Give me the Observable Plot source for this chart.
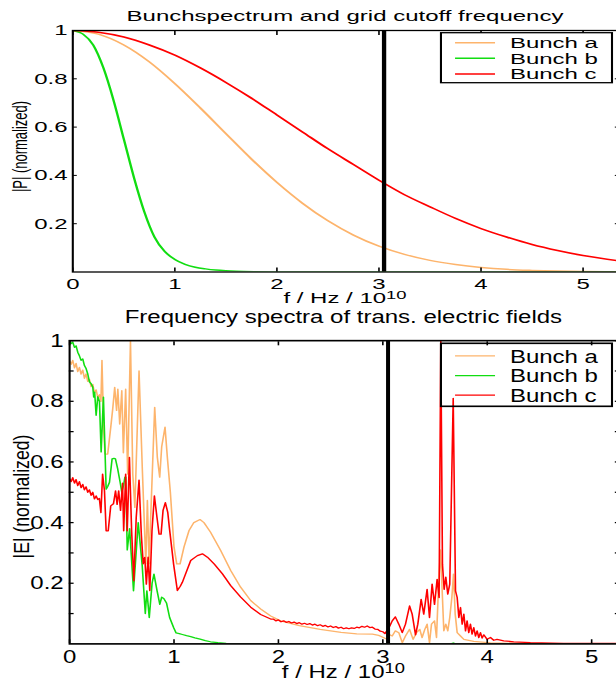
<!DOCTYPE html>
<html><head><meta charset="utf-8">
<script src="https://cdn.jsdelivr.net/npm/d3@7"></script>
<script src="https://cdn.jsdelivr.net/npm/@observablehq/plot@0.6"></script>
<style>
html,body{margin:0;padding:0;background:#fff;overflow:hidden;width:616px;height:689px;}
#top{position:absolute;left:0;top:0;}
#bot{position:absolute;left:0;top:305px;}
svg{display:block;}
</style></head><body><div id="top"></div><div id="bot"></div>
<script>
// ---------- data ----------
const seriesNames = ["Bunch a", "Bunch b", "Bunch c"];
const seriesColors = ["#fdb46c", "#11dd11", "#ff0000"];
const titleTop = "Bunchspectrum and grid cutoff frequency";
const titleBottom = "Frequency spectra of trans. electric fields";
const yLabelTop = "|P| (normalized)";
const yLabelBottom = "|E| (normalized)";
const xLabelMain = "f / Hz / 10";
const xLabelExp = "10";
const cutoffFreq = [3.05];

const xTickValues = [0, 1, 2, 3, 4, 5];
const xTickLabels = ["0", "1", "2", "3", "4", "5"];
const topYTickValues = [0.2, 0.4, 0.6, 0.8, 1];
const topYTickLabels = ["0.2", "0.4", "0.6", "0.8", "1"];
const botYTickValues = [0.1, 0.2, 0.3, 0.4, 0.5, 0.6, 0.7, 0.8, 0.9, 1.0];
const botYTickLabels = ["", "0.2", "", "0.4", "", "0.6", "", "0.8", "", "1"];

// Bunch spectrum |P| (top)
const topA = [[0,1],[0.25,0.985],[0.5,0.94],[0.75,0.87],[1.0,0.78],[1.25,0.679],[1.5,0.573],[1.75,0.468],[2.0,0.371],[2.25,0.285],[2.5,0.212],[2.75,0.153],[3.0,0.107],[3.25,0.073],[3.5,0.048],[3.75,0.031],[4.0,0.019],[4.25,0.011],[4.5,0.0066],[4.75,0.0037],[5.0,0.002],[5.35,0.001]];
const topB = [[0,1],[0.1,0.985],[0.2,0.94],[0.3,0.845],[0.4,0.71],[0.5,0.55],[0.6,0.39],[0.7,0.25],[0.8,0.145],[0.9,0.085],[1.0,0.052],[1.1,0.032],[1.2,0.02],[1.3,0.013],[1.4,0.008],[1.5,0.005],[1.6,0.003],[1.8,0.001],[2.0,0],[5.35,0]];
const topC = [[0,1],[0.25,0.993],[0.5,0.973],[0.75,0.94],[1.0,0.898],[1.25,0.845],[1.5,0.785],[1.75,0.72],[2.0,0.65],[2.25,0.58],[2.5,0.51],[2.75,0.445],[3.0,0.38],[3.25,0.32],[3.5,0.27],[3.75,0.222],[4.0,0.18],[4.25,0.145],[4.5,0.114],[4.75,0.089],[5.0,0.068],[5.35,0.046]];

// Field spectra |E| (bottom)
const botA = [[0.000,0.934],[0.015,0.922],[0.030,0.935],[0.047,0.910],[0.062,0.925],[0.078,0.898],[0.094,0.912],[0.110,0.890],[0.126,0.903],[0.142,0.876],[0.158,0.890],[0.174,0.866],[0.190,0.872],[0.206,0.848],[0.222,0.856],[0.238,0.828],[0.254,0.838],[0.270,0.812],[0.286,0.822],[0.300,0.800],[0.310,0.935],[0.327,0.700],[0.340,0.626],[0.365,0.626],[0.394,0.714],[0.413,0.775],[0.432,0.846],[0.450,0.770],[0.462,0.840],[0.480,0.725],[0.500,0.835],[0.515,0.630],[0.537,0.840],[0.556,0.560],[0.583,1.000],[0.605,0.560],[0.625,0.450],[0.665,0.900],[0.697,0.572],[0.730,0.264],[0.745,0.473],[0.761,0.264],[0.780,0.450],[0.815,0.780],[0.840,0.616],[0.863,0.550],[0.882,0.650],[0.914,0.715],[0.936,0.616],[0.965,0.500],[1.000,0.320],[1.026,0.264],[1.058,0.264],[1.096,0.320],[1.144,0.374],[1.190,0.400],[1.249,0.410],[1.287,0.400],[1.350,0.368],[1.447,0.308],[1.543,0.242],[1.638,0.187],[1.734,0.143],[1.830,0.115],[1.926,0.092],[2.020,0.076],[2.200,0.060],[2.400,0.048],[2.600,0.038],[2.750,0.033],[2.900,0.032],[2.960,0.028],[3.000,0.022],[3.040,0.015],[3.057,0.032],[3.090,0.026],[3.120,0.043],[3.153,0.037],[3.186,0.004],[3.217,0.026],[3.256,0.048],[3.290,0.015],[3.322,0.037],[3.354,0.048],[3.376,0.021],[3.402,0.048],[3.424,0.065],[3.447,0.004],[3.466,0.065],[3.495,0.076],[3.514,0.021],[3.533,0.186],[3.552,0.310],[3.571,0.153],[3.584,0.043],[3.603,0.065],[3.622,0.043],[3.641,0.087],[3.661,0.153],[3.677,0.230],[3.693,0.098],[3.712,0.037],[3.744,0.026],[3.776,0.015],[3.871,0.008],[4.031,0.003],[4.413,0.001],[5.260,0.001]];
const botB = [[0.000,1.000],[0.015,0.990],[0.030,0.995],[0.047,0.978],[0.062,0.983],[0.078,0.962],[0.094,0.950],[0.110,0.935],[0.126,0.940],[0.142,0.918],[0.158,0.908],[0.174,0.890],[0.190,0.864],[0.206,0.858],[0.222,0.847],[0.231,0.814],[0.240,0.830],[0.254,0.754],[0.270,0.815],[0.286,0.800],[0.302,0.633],[0.324,0.814],[0.350,0.510],[0.366,0.520],[0.382,0.533],[0.407,0.610],[0.425,0.612],[0.439,0.610],[0.460,0.578],[0.484,0.533],[0.500,0.500],[0.515,0.520],[0.530,0.550],[0.538,0.550],[0.552,0.310],[0.575,0.380],[0.612,0.175],[0.657,0.400],[0.695,0.260],[0.725,0.100],[0.740,0.175],[0.763,0.087],[0.790,0.200],[0.808,0.230],[0.838,0.175],[0.864,0.130],[0.882,0.154],[0.902,0.150],[0.928,0.135],[0.958,0.087],[0.996,0.054],[1.020,0.036],[1.050,0.034],[1.080,0.031],[1.120,0.027],[1.160,0.024],[1.200,0.020],[1.250,0.016],[1.300,0.011],[1.350,0.007],[1.420,0.004],[1.500,0.002],[1.600,0.001],[2.000,0.000],[3.000,0.000],[3.650,0.000],[3.675,0.003],[3.700,0.000],[5.260,0.000]];
const botC = [[0.000,0.545],[0.015,0.535],[0.030,0.548],[0.047,0.530],[0.062,0.542],[0.078,0.522],[0.094,0.535],[0.110,0.515],[0.126,0.526],[0.142,0.508],[0.158,0.518],[0.174,0.500],[0.190,0.508],[0.206,0.490],[0.222,0.500],[0.238,0.478],[0.254,0.488],[0.270,0.476],[0.285,0.480],[0.300,0.433],[0.316,0.560],[0.334,0.505],[0.350,0.373],[0.370,0.373],[0.394,0.455],[0.420,0.462],[0.440,0.505],[0.455,0.460],[0.470,0.505],[0.488,0.440],[0.507,0.530],[0.518,0.373],[0.537,0.560],[0.552,0.373],[0.573,0.615],[0.594,0.373],[0.615,0.208],[0.638,0.417],[0.665,0.540],[0.687,0.360],[0.705,0.264],[0.720,0.285],[0.735,0.197],[0.752,0.286],[0.768,0.176],[0.789,0.373],[0.812,0.488],[0.837,0.417],[0.857,0.362],[0.876,0.362],[0.895,0.440],[0.917,0.466],[0.940,0.434],[0.955,0.385],[0.996,0.263],[1.032,0.176],[1.060,0.190],[1.080,0.203],[1.110,0.230],[1.160,0.275],[1.224,0.291],[1.272,0.297],[1.320,0.286],[1.384,0.264],[1.464,0.231],[1.543,0.192],[1.639,0.154],[1.735,0.121],[1.830,0.097],[1.926,0.082],[1.950,0.082],[1.975,0.076],[2.000,0.079],[2.025,0.073],[2.050,0.076],[2.075,0.071],[2.100,0.074],[2.125,0.069],[2.150,0.072],[2.175,0.067],[2.200,0.070],[2.225,0.065],[2.250,0.068],[2.275,0.064],[2.300,0.067],[2.325,0.062],[2.350,0.065],[2.375,0.060],[2.400,0.063],[2.425,0.058],[2.450,0.061],[2.475,0.056],[2.500,0.059],[2.525,0.054],[2.550,0.057],[2.575,0.052],[2.600,0.055],[2.625,0.050],[2.650,0.053],[2.675,0.050],[2.700,0.053],[2.725,0.051],[2.750,0.055],[2.775,0.053],[2.800,0.058],[2.825,0.055],[2.850,0.059],[2.875,0.054],[2.900,0.055],[2.925,0.049],[2.950,0.048],[2.975,0.042],[3.000,0.040],[3.020,0.034],[3.040,0.044],[3.067,0.059],[3.090,0.076],[3.120,0.089],[3.153,0.065],[3.186,0.037],[3.217,0.065],[3.256,0.125],[3.281,0.098],[3.313,0.030],[3.335,0.065],[3.367,0.147],[3.392,0.098],[3.424,0.180],[3.447,0.087],[3.472,0.197],[3.495,0.130],[3.520,0.213],[3.539,0.153],[3.555,1.000],[3.571,0.263],[3.587,0.180],[3.603,0.220],[3.622,0.164],[3.641,0.197],[3.674,0.810],[3.696,0.175],[3.712,0.153],[3.728,0.087],[3.744,0.120],[3.760,0.065],[3.776,0.098],[3.792,0.043],[3.807,0.076],[3.823,0.037],[3.839,0.065],[3.855,0.032],[3.871,0.054],[3.887,0.026],[3.903,0.043],[3.919,0.021],[3.935,0.037],[3.951,0.019],[3.967,0.030],[3.999,0.015],[4.031,0.021],[4.062,0.012],[4.094,0.015],[4.158,0.010],[4.254,0.007],[4.413,0.004],[4.732,0.002],[5.260,0.002]];

// ---------- rendering ----------
const FONT = "'Liberation Sans', Arial, Helvetica, sans-serif";
const SX = 1.6;           // horizontal stretch of the original figure
const SCREEN_W = 620;
const VB_W = SCREEN_W / SX;

function labelFor(values, labels) {
  return d => { const i = values.findIndex(v => Math.abs(v - d) < 1e-9); return i < 0 ? "" : labels[i]; };
}

function panel({curves, widths, xMax, yTicks, yLabels, mL, mR, mT, mB, vbH, xPad, yPad, tickX, tickY, smooth}) {
  const marks = curves.map((data, i) => Plot.line(data, {
    x: d => d[0], y: d => d[1], stroke: seriesColors[i], strokeWidth: widths.line,
    curve: smooth ? "monotone-x" : "linear", clip: true
  }));
  marks.push(Plot.ruleX(cutoffFreq, {stroke: "black", strokeWidth: widths.cutoff}));
  marks.push(Plot.axisX({anchor: "bottom", ticks: xTickValues, tickSize: -tickX, tickPadding: xPad, tickFormat: labelFor(xTickValues, xTickLabels), label: null, strokeWidth: 1}));
  marks.push(Plot.axisX({anchor: "top", ticks: xTickValues, tickSize: -tickX, tickFormat: () => "", label: null, strokeWidth: 1}));
  marks.push(Plot.axisY({anchor: "left", ticks: yTicks, tickSize: -tickY, tickPadding: yPad, tickFormat: labelFor(yTicks, yLabels), label: null, strokeWidth: 1}));
  marks.push(Plot.axisY({anchor: "right", ticks: yTicks, tickSize: -tickY, tickFormat: () => "", label: null, strokeWidth: 1}));
  marks.push(Plot.frame({stroke: "black", strokeWidth: 1.3}));
  return Plot.plot({
    width: VB_W, height: vbH,
    marginLeft: mL, marginRight: mR, marginTop: mT, marginBottom: mB,
    x: {domain: [0, xMax]},
    y: {domain: [0, 1]},
    style: {fontFamily: FONT, fontSize: "15px", color: "black", background: "white", overflow: "visible"},
    marks
  });
}

function stretch(svg, w, h) {
  svg.setAttribute("width", w);
  svg.setAttribute("height", h);
  svg.setAttribute("preserveAspectRatio", "none");
  svg.style.width = w + "px";
  svg.style.height = h + "px";
  svg.style.maxWidth = "none";
}

function decorate(svg, o) {
  const s = d3.select(svg);
  const cx = (o.mL + (VB_W - o.mR)) / 2;
  s.append("text").attr("x", cx).attr("y", o.titleY).attr("text-anchor", "middle")
    .attr("font-family", FONT).attr("font-size", 15).attr("fill", "black").text(o.title);
  const xl = s.append("text").attr("x", cx).attr("y", o.xLabelY).attr("text-anchor", "middle")
    .attr("font-family", FONT).attr("font-size", 15).attr("fill", "black");
  xl.append("tspan").text(xLabelMain);
  xl.append("tspan").attr("dy", -o.supRise).attr("font-size", 11.5).text(xLabelExp);
  s.append("text").attr("transform", `translate(${o.yLabelX},${o.yLabelY}) rotate(-90)`)
    .attr("text-anchor", "middle").attr("dominant-baseline", "central")
    .attr("font-family", FONT).attr("font-size", o.yLabelSize).attr("fill", "black").text(o.yLabel);
  // legend
  const g = s.append("g");
  g.append("rect").attr("x", 275.6).attr("y", o.legTop).attr("width", 106.9).attr("height", 50)
    .attr("fill", o.legFill).attr("stroke", "black").attr("stroke-width", 1.3);
  seriesNames.forEach((name, i) => {
    const cy = o.legTop + 10 + i * 15.6;
    g.append("line").attr("x1", 284.4).attr("x2", 309.4).attr("y1", cy).attr("y2", cy)
      .attr("stroke", seriesColors[i]).attr("stroke-width", o.legLine);
    g.append("text").attr("x", 318.7).attr("y", cy + 5.4).attr("text-anchor", "start")
      .attr("font-family", FONT).attr("font-size", 15).attr("fill", "black").text(name);
  });
}

// top panel
const topSvg = panel({
  curves: [topA, topB, topC], widths: {line: 1.5, cutoff: 2.7}, xMax: 5.35,
  yTicks: topYTickValues, yLabels: topYTickLabels,
  mL: 45, mR: 1.25, mT: 30, mB: 33.5, vbH: 305, xPad: 10, yPad: 6.3, tickX: 4, tickY: 3, smooth: true
});
decorate(topSvg, {mL: 45, mR: 1.25, title: titleTop, titleY: 20.7, xLabelY: 303.5, supRise: 4.5,
  yLabel: yLabelTop, yLabelX: 12.5, yLabelY: 146.5, yLabelSize: 13, legTop: 32.7, legFill: "white", legLine: 1.5});
stretch(topSvg, SCREEN_W, 305);
document.getElementById("top").appendChild(topSvg);

// bottom panel
const SY = 1.26;
const botH = 384 / SY;
const botSvg = panel({
  curves: [botA, botB, botC], widths: {line: 1, cutoff: 2.5}, xMax: 5.26,
  yTicks: botYTickValues, yLabels: botYTickLabels,
  mL: 43, mR: 1.25, mT: 27.8, mB: 36.3, vbH: botH, xPad: 7.5, yPad: 6.7, tickX: 3.2, tickY: 3, smooth: false
});
decorate(botSvg, {mL: 43, mR: 1.25, title: titleBottom, titleY: 14.3, xLabelY: 295.8, supRise: 4,
  yLabel: yLabelBottom, yLabelX: 13.4, yLabelY: 152, yLabelSize: 14, legTop: 30.4, legFill: "none", legLine: 1});
stretch(botSvg, SCREEN_W, 384);
document.getElementById("bot").appendChild(botSvg);
</script></body></html>
